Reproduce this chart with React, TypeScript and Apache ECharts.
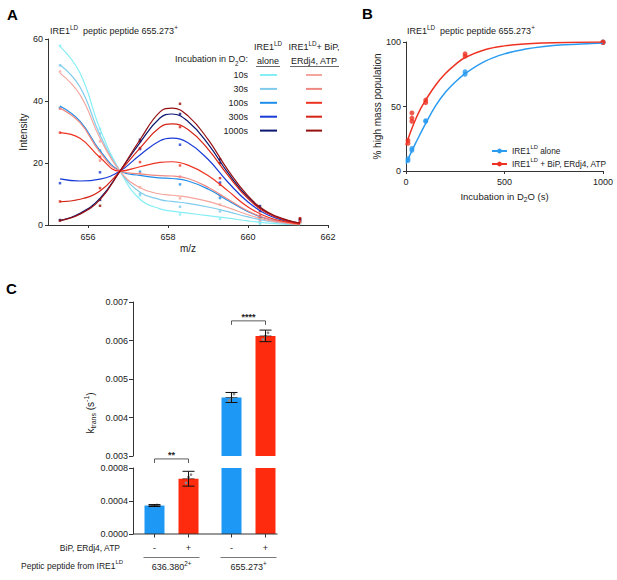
import React, { useEffect, useRef } from "react";
import * as echarts from "echarts";

// ---------------- Panel A data (m/z spectra, peptide 655.273+) ----------------
const mzFit = [655.3, 655.8, 656.3, 656.8, 657.3, 657.8, 658.1, 658.5, 659.0, 659.5, 660.0, 660.5, 661.0, 661.3];
const mzPeaks = [655.3, 656.3, 657.3, 658.3, 659.3, 660.3, 661.3];
const mzTicks = [656, 658, 660, 662];
const incubationLabels = ["10s", "30s", "100s", "300s", "1000s"];

const aloneFit10 = [57.6, 49.0, 31.0, 17.4, 8.3, 5.2, 4.5, 3.8, 3.0, 2.2, 1.3, 0.6, 0.2, 0.05];
const aloneFit30 = [51.7, 44.5, 29.0, 17.4, 10.6, 8.2, 7.6, 7.0, 5.8, 4.3, 2.6, 1.2, 0.4, 0.1];
const aloneFit100 = [38.4, 33.5, 24.0, 17.4, 16.0, 15.2, 15.0, 14.2, 11.6, 7.9, 4.3, 1.9, 0.7, 0.2];
const aloneFit300 = [14.9, 14.2, 14.8, 17.4, 22.6, 27.2, 28.0, 26.5, 21.2, 13.8, 7.4, 3.2, 1.1, 0.4];
const aloneFit1000 = [1.4, 3.8, 8.6, 17.4, 26.6, 34.5, 35.8, 33.4, 26.2, 16.8, 8.9, 3.9, 1.4, 0.6];
const bipFit10 = [49.0, 42.0, 28.0, 17.4, 12.0, 10.0, 9.6, 9.0, 7.6, 5.6, 3.3, 1.5, 0.5, 0.15];
const bipFit30 = [37.7, 33.0, 23.5, 17.4, 16.5, 15.9, 15.8, 15.0, 12.2, 8.3, 4.5, 2.0, 0.7, 0.2];
const bipFit100 = [29.8, 28.0, 21.8, 17.4, 18.8, 20.2, 20.4, 19.3, 16.0, 11.0, 5.8, 2.5, 0.9, 0.3];
const bipFit300 = [7.5, 8.3, 11.0, 17.4, 24.8, 31.5, 32.6, 30.8, 24.5, 16.0, 8.5, 3.7, 1.3, 0.5];
const bipFit1000 = [1.4, 3.5, 8.2, 17.4, 27.5, 36.5, 37.7, 35.2, 27.6, 17.7, 9.4, 4.1, 1.5, 0.6];

const aloneDots10 = [57.8, 31.0, 9.5, 3.4, 2.0, 0.4, 0.5];
const aloneDots30 = [51.5, 29.5, 10.0, 5.9, 4.4, 0.8, 0.8];
const aloneDots100 = [37.8, 24.0, 17.2, 13.1, 8.7, 1.8, 1.2];
const aloneDots300 = [13.5, 17.0, 24.5, 25.9, 13.7, 2.5, 1.5];
const aloneDots1000 = [1.6, 8.1, 27.5, 35.8, 21.2, 6.1, 1.8];
const bipDots10 = [49.5, 27.0, 12.2, 8.6, 6.6, 1.2, 0.8];
const bipDots30 = [37.5, 20.8, 16.7, 15.6, 9.5, 2.0, 1.0];
const bipDots100 = [29.8, 22.0, 20.3, 19.2, 13.0, 2.5, 1.2];
const bipDots300 = [7.6, 11.9, 24.8, 31.6, 15.1, 3.0, 2.2];
const bipDots1000 = [1.4, 6.2, 27.0, 39.1, 20.0, 4.5, 2.0];

const aloneFits = [aloneFit10, aloneFit30, aloneFit100, aloneFit300, aloneFit1000];
const bipFits = [bipFit10, bipFit30, bipFit100, bipFit300, bipFit1000];
const aloneDots = [aloneDots10, aloneDots30, aloneDots100, aloneDots300, aloneDots1000];
const bipDots = [bipDots10, bipDots30, bipDots100, bipDots300, bipDots1000];

// ---------------- Panel B data (% high mass population) ----------------
const timeFit = [0, 25, 50, 75, 100, 150, 200, 250, 300, 400, 500, 600, 700, 800, 1000];
const aloneFitB = [5.7, 14, 22, 29.5, 37, 50.5, 61, 69, 75.5, 85, 90.8, 94.3, 96.5, 97.8, 99.3];
const bipFitB = [20, 31, 40.5, 48.5, 55, 66.5, 75.5, 82.5, 88, 94, 97, 98.5, 99.3, 99.7, 100];
const aloneT = [10, 10, 30, 30, 100, 100, 300, 300, 1000, 1000];
const aloneY = [8, 9.5, 16, 17.5, 38.5, 39, 75, 77, 99.6, 100];
const bipT = [10, 10, 30, 30, 30, 100, 100, 300, 300, 1000, 1000];
const bipY = [21.5, 23.8, 38.5, 41, 45, 53, 55, 89, 90.8, 99.6, 100];

// ---------------- Panel C data (k_trans) ----------------
const peptideNames = ["636.380", "655.273"];
const peptideCharges = ["2+", "+"];
const treatments = ["-", "+"];
const ktransMinus = [0.000345, 0.00452];
const ktransPlus = [0.00067, 0.00612];
const sdMinus = [0.000012, 0.00013];
const sdPlus = [0.00009, 0.00015];
const repMinus = [[0.00034, 0.000348, 0.000352], [0.00444, 0.0045, 0.00461]];
const repPlus = [[0.00062, 0.00069, 0.00072], [0.00603, 0.00612, 0.0062]];
const sigLabels = ["**", "****"];

// ---------------- styles ----------------
const FONT = "'Liberation Sans', Arial, Helvetica, sans-serif";
const TXT = "#222";
const AX = "#333";
const aloneColors = ["#86EEF5", "#7FCBEB", "#1E8EEA", "#1A3CD6", "#0B1670"];
const bipColors = ["#F5A59D", "#F08882", "#EE3322", "#D52416", "#961010"];
const BLUE_B = "#2A9BF0";
const RED_B = "#EE3222";
const BAR_BLUE = "#1E98F5";
const BAR_RED = "#FF2B0E";
const BAR_OFF = 17;
const FS = 9;

// rich text for zrender graphic elements (fill) and component text (color)
const gRich = (fs = FS) => ({
  a: { fontSize: fs, lineHeight: 14, fontFamily: FONT, fill: TXT },
  s: { fontSize: fs * 0.7, lineHeight: 7, verticalAlign: "top", fontFamily: FONT, fill: TXT },
  b: { fontSize: fs * 0.7, lineHeight: 7, verticalAlign: "bottom", fontFamily: FONT, fill: TXT },
});
const cRich = (fs = FS) => ({
  a: { fontSize: fs, lineHeight: 14, fontFamily: FONT, color: TXT },
  s: { fontSize: fs * 0.7, lineHeight: 7, verticalAlign: "top", fontFamily: FONT, color: TXT },
  b: { fontSize: fs * 0.7, lineHeight: 7, verticalAlign: "bottom", fontFamily: FONT, color: TXT },
});

const gText = (text: string, x: number, y: number, align = "left", extra: any = {}) => ({
  type: "text",
  silent: true,
  style: {
    text,
    x,
    y,
    textAlign: align,
    textVerticalAlign: "middle",
    fontSize: extra.fs || FS,
    fontFamily: FONT,
    fill: TXT,
    rich: gRich(extra.fs || FS),
    ...extra.style,
  },
});

const axisBase = {
  axisLine: { show: true, onZero: false, lineStyle: { color: AX, width: 1 } },
  axisTick: { show: true, length: 3, lineStyle: { color: AX } },
  axisLabel: { color: TXT, fontSize: FS, fontFamily: FONT },
  splitLine: { show: false },
  nameTextStyle: { color: TXT, fontSize: 10, fontFamily: FONT },
};

function buildOption() {
  const series: any[] = [];

  // Panel A
  aloneFits.forEach((fit, i) => {
    series.push({
      type: "line", xAxisIndex: 0, yAxisIndex: 0, smooth: 0.45, showSymbol: false, silent: true,
      data: mzFit.map((x, k) => [x, fit[k]]),
      lineStyle: { color: aloneColors[i], width: 1.2 },
    });
    series.push({
      type: "scatter", xAxisIndex: 0, yAxisIndex: 0, symbol: "rect", symbolSize: 2.5, silent: true,
      data: mzPeaks.map((x, k) => [x, aloneDots[i][k]]),
      itemStyle: { color: aloneColors[i] },
    });
  });
  bipFits.forEach((fit, i) => {
    series.push({
      type: "line", xAxisIndex: 0, yAxisIndex: 0, smooth: 0.45, showSymbol: false, silent: true,
      data: mzFit.map((x, k) => [x, fit[k]]),
      lineStyle: { color: bipColors[i], width: 1.2 },
    });
    series.push({
      type: "scatter", xAxisIndex: 0, yAxisIndex: 0, symbol: "rect", symbolSize: 2.5, silent: true,
      data: mzPeaks.map((x, k) => [x, bipDots[i][k]]),
      itemStyle: { color: bipColors[i] },
    });
  });

  // Panel B
  series.push({
    name: "alone", type: "line", xAxisIndex: 1, yAxisIndex: 1, smooth: 0.4, showSymbol: false,
    symbol: "circle", symbolSize: 5, data: timeFit.map((t, k) => [t, aloneFitB[k]]),
    lineStyle: { color: BLUE_B, width: 1.5 }, itemStyle: { color: BLUE_B },
  });
  series.push({
    name: "bip", type: "line", xAxisIndex: 1, yAxisIndex: 1, smooth: 0.4, showSymbol: false,
    symbol: "circle", symbolSize: 5, data: timeFit.map((t, k) => [t, bipFitB[k]]),
    lineStyle: { color: RED_B, width: 1.5 }, itemStyle: { color: RED_B },
  });
  series.push({
    name: "aloneP", type: "scatter", xAxisIndex: 1, yAxisIndex: 1, symbolSize: 5,
    data: aloneT.map((t, k) => [t, aloneY[k]]), itemStyle: { color: BLUE_B },
  });
  series.push({
    name: "bipP", type: "scatter", xAxisIndex: 1, yAxisIndex: 1, symbolSize: 5,
    data: bipT.map((t, k) => [t, bipY[k]]), itemStyle: { color: RED_B },
  });

  // Panel C bars, upper (2) and lower (3) grids
  [2, 3].forEach((ax) => {
    series.push({
      type: "bar", xAxisIndex: ax, yAxisIndex: ax, barWidth: 20, barGap: "70%", silent: true,
      data: ktransMinus, itemStyle: { color: BAR_BLUE },
    });
    series.push({
      type: "bar", xAxisIndex: ax, yAxisIndex: ax, barWidth: 20, barGap: "70%", silent: true,
      data: ktransPlus, itemStyle: { color: BAR_RED },
    });
  });

  // error bars + replicate points
  const errData: any[] = [];
  peptideNames.forEach((_, i) => {
    errData.push([i, ktransMinus[i], sdMinus[i], 0, ...repMinus[i]]);
    errData.push([i, ktransPlus[i], sdPlus[i], 1, ...repPlus[i]]);
  });
  const errRender = (params: any, api: any) => {
    const cat = api.value(0), m = api.value(1), sd = api.value(2), j = api.value(3);
    const cx = api.coord([cat, m])[0] + (j === 0 ? -BAR_OFF : BAR_OFF);
    const yTop = api.coord([cat, m + sd])[1];
    const yBot = api.coord([cat, m - sd])[1];
    const yM = api.coord([cat, m])[1];
    const st = { stroke: "#111", lineWidth: 1 };
    const children: any[] = [];
    [4, 5, 6].forEach((d, k) => {
      const ry = api.coord([cat, api.value(d)])[1];
      children.push({ type: "circle", shape: { cx: cx + (k - 1) * 2.5, cy: ry, r: 1.4 }, style: { fill: "#8a8a8a" } });
    });
    children.push(
      { type: "line", shape: { x1: cx, y1: yTop, x2: cx, y2: yBot }, style: st },
      { type: "line", shape: { x1: cx - 6, y1: yTop, x2: cx + 6, y2: yTop }, style: st },
      { type: "line", shape: { x1: cx - 6, y1: yBot, x2: cx + 6, y2: yBot }, style: st },
      { type: "line", shape: { x1: cx - 6, y1: yM, x2: cx + 6, y2: yM }, style: { stroke: "#111", lineWidth: 0.6 } },
    );
    return { type: "group", children };
  };
  series.push({
    type: "custom", xAxisIndex: 2, yAxisIndex: 2, renderItem: errRender, silent: true, z: 5,
    data: errData.filter((d) => d[1] > 0.003),
  });
  series.push({
    type: "custom", xAxisIndex: 3, yAxisIndex: 3, renderItem: errRender, silent: true, z: 5,
    data: errData.filter((d) => d[1] < 0.0008),
  });

  // significance brackets
  const bracketRender = (params: any, api: any) => {
    const cat = api.value(0), lvl = api.value(1);
    const p = api.coord([cat, lvl]);
    const x1 = p[0] - BAR_OFF, x2 = p[0] + BAR_OFF, y = p[1];
    const st = { stroke: "#333", lineWidth: 0.8 };
    return {
      type: "group",
      children: [
        { type: "line", shape: { x1, y1: y, x2, y2: y }, style: st },
        { type: "line", shape: { x1, y1: y, x2: x1, y2: y + 4 }, style: st },
        { type: "line", shape: { x1: x2, y1: y, x2, y2: y + 4 }, style: st },
        {
          type: "text",
          style: {
            text: sigLabels[cat], x: p[0], y: y - 4, textAlign: "center", textVerticalAlign: "middle",
            fontSize: 9, fontFamily: FONT, fill: TXT, fontWeight: "bold",
          },
        },
      ],
    };
  };
  series.push({
    type: "custom", xAxisIndex: 3, yAxisIndex: 3, renderItem: bracketRender, silent: true, clip: false,
    data: [[0, 0.00091]],
  });
  series.push({
    type: "custom", xAxisIndex: 2, yAxisIndex: 2, renderItem: bracketRender, silent: true, clip: false,
    data: [[1, 0.00651]],
  });

  // baseline, treatment ticks, -/+ labels and group underline
  const tickData: any[] = [];
  peptideNames.forEach((_, i) => treatments.forEach((_, j) => tickData.push([i, 0, j])));
  series.push({
    type: "custom", xAxisIndex: 3, yAxisIndex: 3, silent: true, clip: false, data: tickData, z: 6,
    renderItem: (params: any, api: any) => {
      const cat = api.value(0), j = api.value(2);
      const p = api.coord([cat, 0]);
      const x = p[0] + (j === 0 ? -BAR_OFF : BAR_OFF);
      const children: any[] = [
        { type: "line", shape: { x1: x, y1: p[1], x2: x, y2: p[1] + 3.5 }, style: { stroke: AX, lineWidth: 1 } },
        {
          type: "text",
          style: {
            text: treatments[j], x, y: p[1] + 14, textAlign: "center", textVerticalAlign: "middle",
            fontSize: FS, fontFamily: FONT, fill: TXT,
          },
        },
      ];
      if (j === 0) {
        children.push({
          type: "line", shape: { x1: p[0] - 28, y1: p[1] + 23.5, x2: p[0] + 28, y2: p[1] + 23.5 },
          style: { stroke: "#555", lineWidth: 0.8 },
        });
      }
      if (cat === peptideNames.length - 1 && j === treatments.length - 1) {
        const left = params.coordSys.x;
        children.push({
          type: "line", shape: { x1: left, y1: p[1], x2: x + 12, y2: p[1] },
          style: { stroke: AX, lineWidth: 1 },
        });
      }
      return { type: "group", children };
    },
  });

  const graphics: any[] = [];
  const letter = { fs: 15, style: { fontWeight: "bold", rich: undefined, fill: "#000" } };
  graphics.push(gText("A", 7, 14, "left", letter));
  graphics.push(gText("B", 362, 13, "left", letter));
  graphics.push(gText("C", 6, 288, "left", letter));
  // titles
  graphics.push(gText("{a|IRE1}{s|LD}{a|  peptic peptide 655.273}{s|+}", 50, 31, "left"));
  graphics.push(gText("{a|IRE1}{s|LD}{a|  peptic peptide 655.273}{s|+}", 407, 31, "left"));

  // panel A legend table
  graphics.push(gText("{a|Incubation in D}{b|2}{a|O:}", 248, 59, "right"));
  graphics.push(gText("{a|IRE1}{s|LD}", 268, 47, "center"));
  graphics.push(gText("alone", 268, 60.5, "center"));
  graphics.push(gText("{a|IRE1}{s|LD}{a|+ BiP,}", 314, 47, "center"));
  graphics.push(gText("ERdj4, ATP", 314, 60.5, "center"));
  graphics.push({ type: "line", silent: true, shape: { x1: 256, y1: 66.5, x2: 280, y2: 66.5 }, style: { stroke: "#444", lineWidth: 0.8 } });
  graphics.push({ type: "line", silent: true, shape: { x1: 290, y1: 66.5, x2: 339, y2: 66.5 }, style: { stroke: "#444", lineWidth: 0.8 } });
  incubationLabels.forEach((lab, i) => {
    const y = 75 + i * 13.9;
    graphics.push(gText(lab, 248, y, "right"));
    graphics.push({ type: "line", silent: true, shape: { x1: 260, y1: y, x2: 277, y2: y }, style: { stroke: aloneColors[i], lineWidth: 2 } });
    graphics.push({ type: "line", silent: true, shape: { x1: 306, y1: y, x2: 322, y2: y }, style: { stroke: bipColors[i], lineWidth: 2 } });
  });

  // panel C texts
  graphics.push(gText("BiP, ERdj4, ATP", 120, 548, "right", { fs: 8.5 }));
  graphics.push(gText("{a|Peptic peptide from IRE1}{s|LD}", 21, 566, "left", { fs: 8.5 }));
  graphics.push({
    type: "text", silent: true, x: 90, y: 413, rotation: Math.PI / 2,
    style: {
      text: "{a|k}{b|trans}{a| (s}{s|-1}{a|)}", x: 0, y: 0, textAlign: "center", textVerticalAlign: "middle",
      fontSize: 10, fontFamily: FONT, fill: TXT, rich: gRich(10),
    },
  });

  return {
    animation: false,
    backgroundColor: "#fff",
    textStyle: { fontFamily: FONT },
    grid: [
      { left: 48, top: 39, width: 280, height: 186 },
      { left: 406, top: 42, width: 197, height: 129 },
      { left: 133, top: 302, width: 154, height: 154 },
      { left: 133, top: 468, width: 154, height: 66 },
    ],
    xAxis: [
      {
        ...axisBase, gridIndex: 0, type: "value", min: 655, max: 662,
        axisTick: { ...axisBase.axisTick, customValues: mzTicks },
        axisLabel: { ...axisBase.axisLabel, customValues: mzTicks, margin: 7 },
        name: "m/z", nameLocation: "middle", nameGap: 18,
      },
      {
        ...axisBase, gridIndex: 1, type: "value", min: 0, max: 1000, interval: 500,
        axisLabel: { ...axisBase.axisLabel, margin: 6, formatter: (v: number) => String(v) },
        name: "{a|Incubation in D}{b|2}{a|O (s)}", nameLocation: "middle", nameGap: 18,
        nameTextStyle: { ...axisBase.nameTextStyle, rich: cRich(9.5) },
      },
      { gridIndex: 2, type: "category", data: peptideNames, show: false },
      {
        gridIndex: 3, type: "category", data: peptideNames,
        axisLine: { show: false },
        axisTick: { show: false },
        axisLabel: {
          interval: 0, margin: 26, color: TXT, fontSize: FS, fontFamily: FONT,
          formatter: (v: string, idx: number) => `{a|${v}}{s|${peptideCharges[idx]}}`,
          rich: cRich(FS),
        },
      },
    ],
    yAxis: [
      {
        ...axisBase, gridIndex: 0, type: "value", min: 0, max: 60, interval: 20,
        axisLabel: { ...axisBase.axisLabel, margin: 5 },
        name: "Intensity", nameLocation: "middle", nameGap: 20,
      },
      {
        ...axisBase, gridIndex: 1, type: "value", min: 0, max: 100, interval: 50,
        axisLabel: { ...axisBase.axisLabel, margin: 5 },
        name: "% high mass population", nameLocation: "middle", nameGap: 24,
      },
      {
        ...axisBase, gridIndex: 2, type: "value", min: 0.003, max: 0.007, interval: 0.001,
        axisTick: { ...axisBase.axisTick, length: 4 },
        axisLabel: { ...axisBase.axisLabel, margin: 5, formatter: (v: number) => v.toFixed(3) },
      },
      {
        ...axisBase, gridIndex: 3, type: "value", min: 0, max: 0.0008, interval: 0.0004,
        axisTick: { ...axisBase.axisTick, length: 4 },
        axisLabel: { ...axisBase.axisLabel, margin: 5, formatter: (v: number) => v.toFixed(4) },
      },
    ],
    legend: {
      data: ["alone", "bip"],
      orient: "vertical",
      left: 486,
      top: 139,
      itemWidth: 15,
      itemHeight: 6,
      itemGap: 2,
      selectedMode: false,
      formatter: (name: string) =>
        name === "alone" ? "{a|IRE1}{s|LD}{a| alone}" : "{a|IRE1}{s|LD}{a| + BiP, ERdj4, ATP}",
      textStyle: { color: TXT, fontSize: 8.3, fontFamily: FONT, rich: cRich(8.3) },
    },
    graphic: graphics,
    series,
  };
}

export default function App() {
  const ref = useRef<HTMLDivElement>(null);
  useEffect(() => {
    const chart = echarts.init(ref.current!, null, { renderer: "svg" });
    chart.setOption(buildOption() as any);
    return () => chart.dispose();
  }, []);
  return (
    <div
      ref={ref}
      style={{ position: "fixed", left: 0, top: 0, width: 617, height: 580, background: "#fff" }}
    />
  );
}
